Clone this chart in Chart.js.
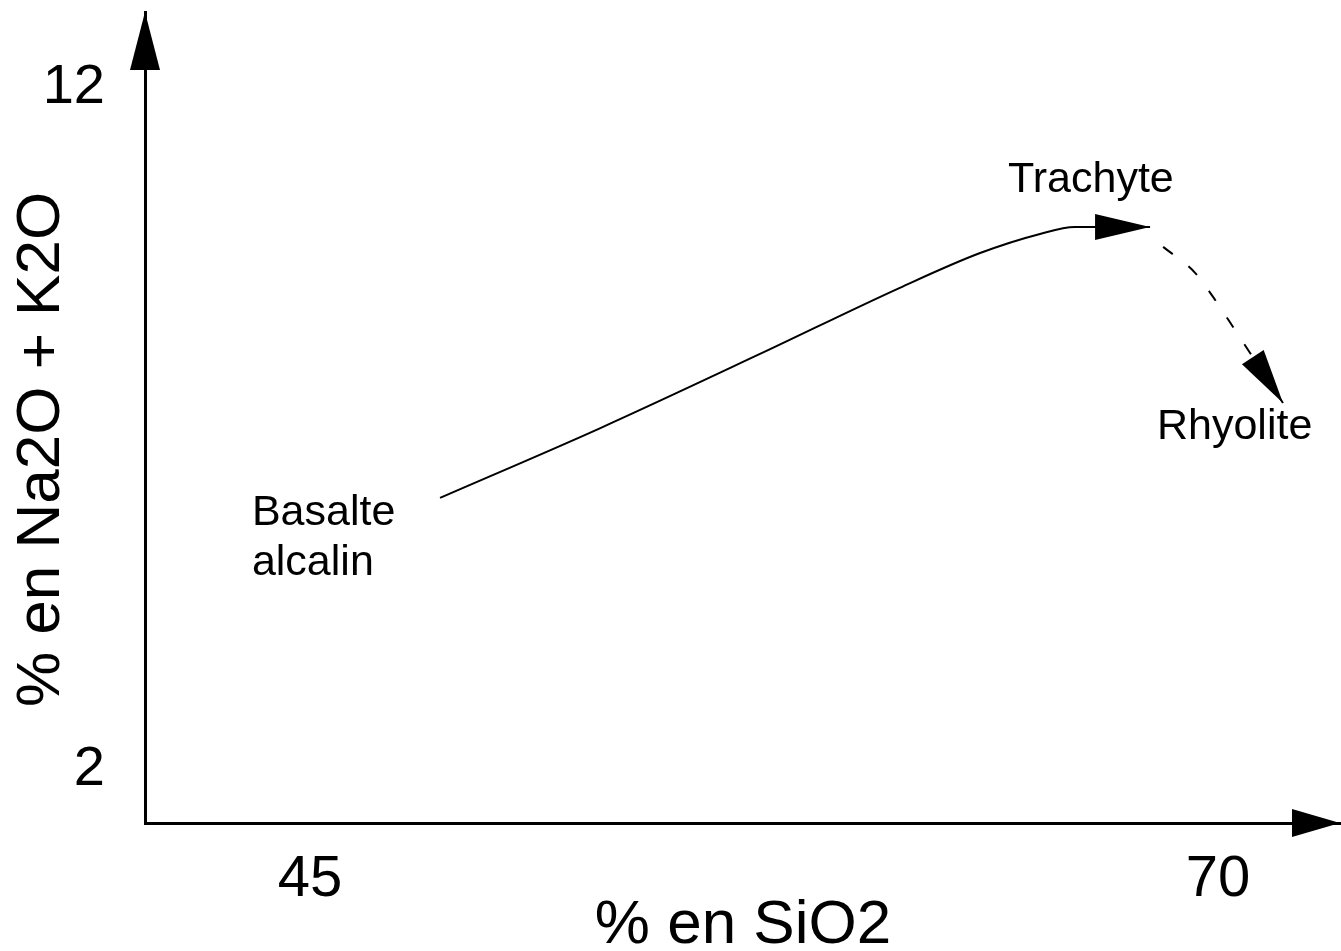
<!DOCTYPE html>
<html>
<head>
<meta charset="utf-8">
<script src="https://cdn.jsdelivr.net/npm/chart.js@4"></script>
<style>
  body { margin: 0; background: #fff; }
  #caja { width: 1341px; height: 951px; }
</style>
</head>
<body>
<div id="caja"><canvas id="diagrama"></canvas></div>
<script>
// Trayectoria de diferenciación
const siO2Serie = [48.58, 52.98, 57.39, 61.24, 63.45, 65.10, 66.06, 68.13];
const alcalinosSerie = [5.99, 7.01, 8.10, 9.07, 9.58, 9.86, 9.96, 9.96];

// Tramo discontinuo hacia la riolita
const siO2Riolita = [68.49, 69.37, 69.86, 70.52, 71.79];
const alcalinosRiolita = [9.67, 9.29, 8.94, 8.41, 7.38];

// Ticks
const ticksX = [45, 70];
const ticksY = [2, 12];

// Nombres de las rocas (ancla en unidades de datos)
const rocas = ["Basalte\nalcalin", "Trachyte", "Rhyolite"];
const rocasX = [43.40, 64.22, 68.32];
const rocasY = [5.77, 10.65, 7.03];

const tituloY = "% en Na2O + K2O";
const fuente = '"Liberation Sans", Arial, sans-serif';

// dibuja una punta de flecha rellena de (x0,y0) hacia (x1,y1)
function punta(ctx, x0, y0, x1, y1, largo, ancho) {
    const ang = Math.atan2(y1 - y0, x1 - x0);
    ctx.save();
    ctx.translate(x1, y1);
    ctx.rotate(ang);
    ctx.beginPath();
    ctx.moveTo(0, 0);
    ctx.lineTo(-largo, -ancho);
    ctx.lineTo(-largo, ancho);
    ctx.closePath();
    ctx.fill();
    ctx.restore();
}

const flechas = {
    id: "flechas",
    afterDraw(chart) {
        const { ctx, chartArea: a, scales: { x, y } } = chart;
        ctx.save();
        ctx.fillStyle = "#000";
        // puntas de los ejes
        punta(ctx, a.left, a.bottom, a.left, a.top, 58, 15);
        punta(ctx, a.left, a.bottom, a.right - 1, a.bottom, 48, 14);
        // puntas al final de cada serie
        chart.data.datasets.forEach((ds, i) => {
            const p = chart.getDatasetMeta(i).data;
            const n = p.length;
            punta(ctx, p[n - 2].x, p[n - 2].y, p[n - 1].x, p[n - 1].y, 55, 13);
        });
        // nombres
        ctx.font = "43px " + fuente;
        ctx.textAlign = "left";
        ctx.textBaseline = "middle";
        rocas.forEach((txt, i) => {
            txt.split("\n").forEach((linea, k) => {
                ctx.fillText(linea, x.getPixelForValue(rocasX[i]), y.getPixelForValue(rocasY[i]) + k * 50);
            });
        });
        // titulo del eje Y (girado)
        ctx.translate(42, y.getPixelForValue(6.7));
        ctx.rotate(-Math.PI / 2);
        ctx.textAlign = "center";
        ctx.font = "62px " + fuente;
        ctx.fillText(tituloY, 0, 0);
        ctx.restore();
    }
};

new Chart(document.getElementById("diagrama").getContext("2d"), {
    type: "line",
    data: {
        datasets: [
            {
                data: siO2Serie.map((v, i) => ({ x: v, y: alcalinosSerie[i] })),
                borderColor: "#000",
                borderWidth: 2,
                pointRadius: 0,
                cubicInterpolationMode: "monotone"
            },
            {
                data: siO2Riolita.map((v, i) => ({ x: v, y: alcalinosRiolita[i] })),
                borderColor: "#000",
                borderWidth: 2,
                borderDash: [12, 20],
                pointRadius: 0,
                cubicInterpolationMode: "monotone"
            }
        ]
    },
    options: {
        responsive: true,
        maintainAspectRatio: false,
        animation: false,
        layout: { padding: { top: 12, right: 0, left: 0, bottom: 0 } },
        plugins: { legend: { display: false }, tooltip: { enabled: false } },
        scales: {
            x: {
                type: "linear",
                min: 40.457,
                max: 73.387,
                afterFit: s => { s.height = 128; s.paddingLeft = 0; s.paddingRight = 0; },
                afterBuildTicks: s => { s.ticks = ticksX.map(v => ({ value: v })); },
                grid: { display: false, drawTicks: false },
                border: { display: true, color: "#000", width: 3 },
                ticks: { color: "#000", padding: 22, font: { family: fuente, size: 58 }, maxRotation: 0 },
                title: { display: true, text: "% en SiO2", color: "#000", padding: { top: 0, bottom: -6 }, font: { family: fuente, size: 62, lineHeight: 1 } }
            },
            y: {
                type: "linear",
                min: 1.223,
                max: 13.114,
                afterFit: s => { s.width = 145; s.paddingTop = 0; s.paddingBottom = 0; },
                afterBuildTicks: s => { s.ticks = ticksY.map(v => ({ value: v })); },
                grid: { display: false, drawTicks: false },
                border: { display: true, color: "#000", width: 3 },
                ticks: { color: "#000", padding: 40, font: { family: fuente, size: 56 } },
                title: { display: false }
            }
        }
    },
    plugins: [flechas]
});
</script>
</body>
</html>
